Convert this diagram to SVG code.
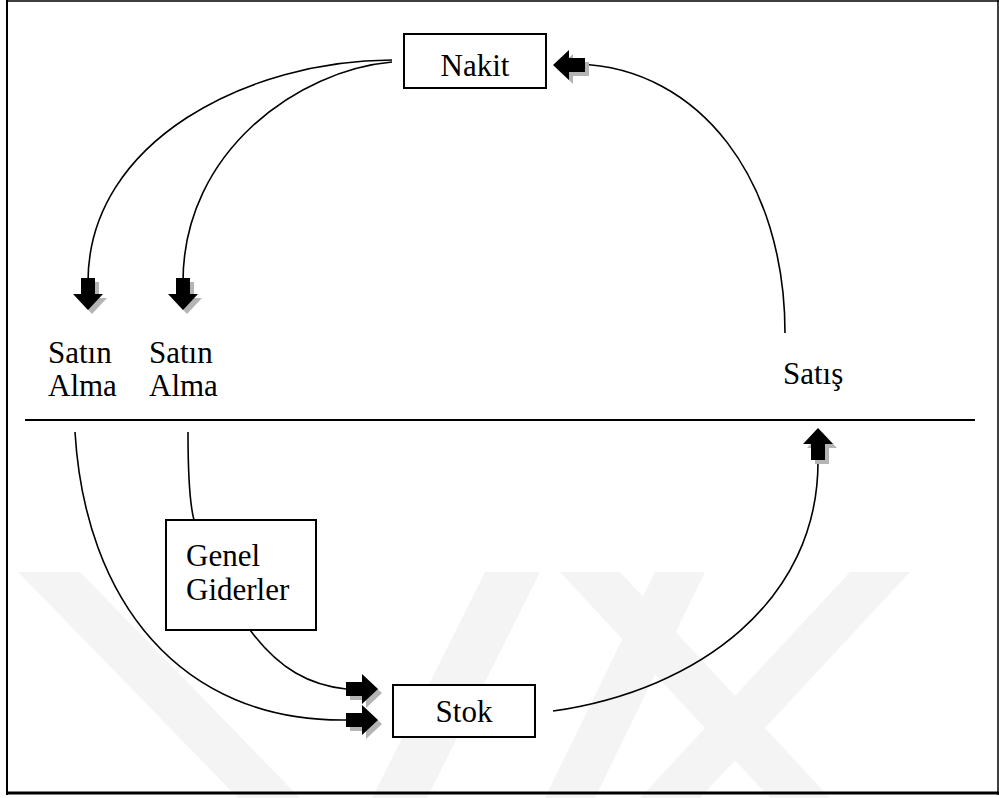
<svg xmlns="http://www.w3.org/2000/svg" xmlns:xlink="http://www.w3.org/1999/xlink" width="999" height="798" viewBox="0 0 999 798">
<style>
.frame{stroke:#000;fill:none}
.box{fill:#fff;stroke:#000;stroke-width:2}
.lbl{font-family:"Liberation Serif","Times New Roman",serif;font-size:31px;fill:#000}
.conn path{fill:none;stroke:#000;stroke-width:1.6}
.wm{fill:#f4f4f4}
.sh{fill:#b4b4b4}
.ah{fill:#000}
</style>
<defs>
<g id="blk"><polygon points="-32,-7 -16,-7 -16,-15 0,0 -16,15 -16,7 -32,7"/></g>
</defs>
<rect width="999" height="798" fill="#fff"/>
<g id="watermark">
<polygon class="wm" points="18,572 80,572 300,798 238,798"/>
<polygon class="wm" points="485,572 540,572 427,798 372,798"/>
<polygon class="wm" points="655,572 705,572 595,798 545,798"/>
<polygon class="wm" points="560,572 620,572 830,798 770,798"/>
<polygon class="wm" points="850,572 910,572 700,798 640,798"/>
</g>
<g id="frame">
<line class="frame" x1="6" y1="1" x2="999" y2="1" stroke-width="1.5"/>
<line class="frame" x1="7" y1="0" x2="7" y2="795" stroke-width="2"/>
<line class="frame" x1="998" y1="0" x2="998" y2="795" stroke-width="1.5"/>
<line class="frame" x1="6" y1="793" x2="999" y2="793" stroke-width="3"/>
</g>
<g id="divider"><line x1="25" y1="420" x2="975" y2="420" stroke="#000" stroke-width="2"/></g>
<g class="conn" id="connectors">
<path d="M392,60 C250,60 88,140 88,282"/>
<path d="M392,62 C300,70 183,150 183,282"/>
<path d="M785,333 C785,180 700,68 578,64"/>
<path d="M553,711 C700,690 818,600 818,462"/>
<path d="M75,432 C85,600 180,722 346,720"/>
<path d="M188,432 C188,480 190,505 194,520"/>
<path d="M250,630 C280,670 310,685 346,689"/>
<g id="heads">
<use href="#blk" class="sh" transform="translate(92,314) rotate(90)"/>
<use href="#blk" class="ah" transform="translate(88,310) rotate(90)"/>
<use href="#blk" class="sh" transform="translate(187,314) rotate(90)"/>
<use href="#blk" class="ah" transform="translate(183,310) rotate(90)"/>
<use href="#blk" class="sh" transform="translate(557,69) rotate(180)"/>
<use href="#blk" class="ah" transform="translate(553,65) rotate(180)"/>
<use href="#blk" class="sh" transform="translate(822,432) rotate(-90)"/>
<use href="#blk" class="ah" transform="translate(818,428) rotate(-90)"/>
<use href="#blk" class="sh" transform="translate(382,693)"/>
<use href="#blk" class="ah" transform="translate(378,689)"/>
<use href="#blk" class="sh" transform="translate(382,724)"/>
<use href="#blk" class="ah" transform="translate(378,720)"/>
</g>
</g>
<g id="nakit">
<rect class="box" x="404" y="34" width="142" height="54"/>
<text class="lbl" x="475" y="76" text-anchor="middle">Nakit</text>
</g>
<g id="satinalma1">
<text class="lbl" x="48" y="363">Satın</text>
<text class="lbl" x="48" y="396">Alma</text>
</g>
<g id="satinalma2">
<text class="lbl" x="149" y="363">Satın</text>
<text class="lbl" x="149" y="396">Alma</text>
</g>
<g id="satis">
<text class="lbl" x="783" y="384">Satış</text>
</g>
<g id="genel">
<rect class="box" x="166" y="520" width="150" height="110"/>
<text class="lbl" x="186" y="566">Genel</text>
<text class="lbl" x="186" y="600">Giderler</text>
</g>
<g id="stok">
<rect class="box" x="393" y="685" width="142" height="52"/>
<text class="lbl" x="464" y="722" text-anchor="middle">Stok</text>
</g>
</svg>
